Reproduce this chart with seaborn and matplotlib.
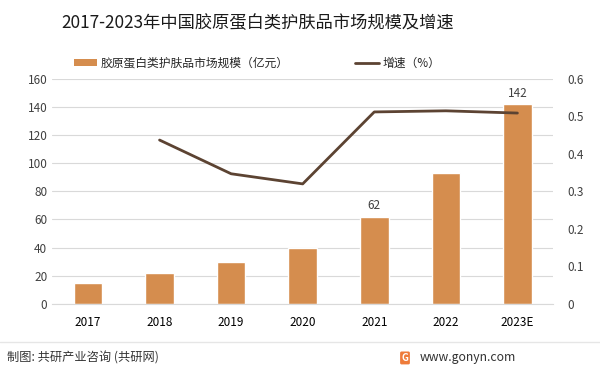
import numpy as np
import pandas as pd
import matplotlib
matplotlib.use("Agg")
import matplotlib.pyplot as plt
import seaborn as sns
from matplotlib.lines import Line2D
from matplotlib.patches import Patch

YEARS = ["2017", "2018", "2019", "2020", "2021", "2022", "2023E"]
MARKET = [15, 22, 30, 40, 62, 93, 142]
GROWTH_YEARS = ["2018", "2019", "2020", "2021", "2022", "2023E"]
GROWTH = [0.437, 0.347, 0.32, 0.512, 0.515, 0.509]
LABELED = {"2021": 62, "2023E": 142}

BAR_COLOR = "#D58D4E"
LINE_COLOR = "#5C4332"

sns.set_style("white")
plt.rcParams["font.family"] = ["Noto Sans CJK SC", "DejaVu Sans"]

fig = plt.figure(figsize=(6, 3.76), dpi=100)
ax = fig.add_axes([0.087, 0.192, 0.835, 0.598])

df = pd.DataFrame({"year": YEARS, "market": MARKET})
sns.barplot(data=df, x="year", y="market", ax=ax, color=BAR_COLOR,
            width=0.4, saturation=1)
ax.set_ylim(0, 160)
ax.set_yticks(range(0, 161, 20))
ax.yaxis.grid(True, color="#d9d9d9", linewidth=0.8)
ax.set_axisbelow(True)
ax.set_xlabel("")
ax.set_ylabel("")
for s in ["top", "right", "left"]:
    ax.spines[s].set_visible(False)
ax.spines["bottom"].set_color("#d9d9d9")
ax.tick_params(axis="both", length=0, labelsize=8.5, colors="#404040")
ax.tick_params(axis="x", colors="#000000", pad=9)

for i, y in enumerate(YEARS):
    if y in LABELED:
        ax.text(i, MARKET[i] + 3, str(LABELED[y]), ha="center", va="bottom",
                fontsize=8.5, color="#404040")

ax2 = ax.twinx()
gx = [YEARS.index(y) for y in GROWTH_YEARS]
sns.lineplot(x=gx, y=GROWTH, ax=ax2, color=LINE_COLOR, linewidth=2)
ax2.set_ylim(0, 0.6)
ax2.set_yticks([0, 0.1, 0.2, 0.3, 0.4, 0.5, 0.6])
ax2.set_yticklabels(["0", "0.1", "0.2", "0.3", "0.4", "0.5", "0.6"])
ax2.tick_params(axis="y", length=0, labelsize=8.5, colors="#404040", pad=10)
for s in ["top", "right", "left", "bottom"]:
    ax2.spines[s].set_visible(False)
ax.set_xlim(-0.5, len(YEARS) - 0.5)

fig.text(0.43, 0.938, "2017-2023年中国胶原蛋白类护肤品市场规模及增速",
         ha="center", va="center", fontsize=12.4, color="#1a1a1a")

handles = [Patch(facecolor=BAR_COLOR, edgecolor="none"),
           Line2D([0], [0], color=LINE_COLOR, linewidth=2)]
fig.legend(handles, ["胶原蛋白类护肤品市场规模（亿元）", "增速（%）"],
           loc="center", bbox_to_anchor=(0.428, 0.832), ncol=2, frameon=False,
           fontsize=8.5, columnspacing=5.6, handlelength=2.0, handleheight=0.6,
           handletextpad=0.3)

fig.add_artist(Line2D([0.0, 1.0], [0.09, 0.09], color="#e6e6e6",
                      linewidth=1, transform=fig.transFigure))
fig.text(0.011, 0.048, "制图: 共研产业咨询 (共研网)", ha="left", va="center",
         fontsize=8.8, color="#333333")
fig.text(0.675, 0.048, "G", ha="center", va="center", fontsize=7,
         color="white", fontweight="bold",
         bbox=dict(boxstyle="round,pad=0.15", facecolor="#EE7B3A", edgecolor="none"))
fig.text(0.86, 0.048, "www.gonyn.com", ha="right", va="center",
         fontsize=8.8, color="#333333")

fig.savefig("out.png", dpi=100)
